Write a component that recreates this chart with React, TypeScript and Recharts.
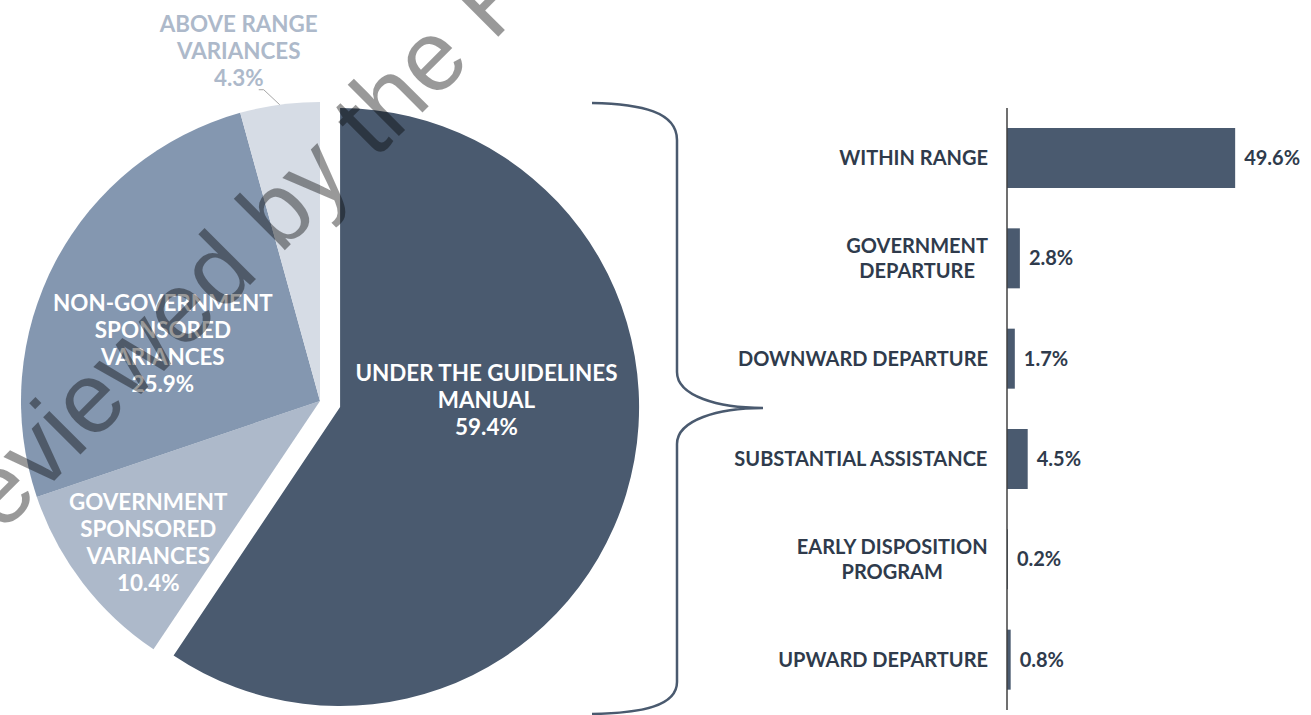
import React from "react";
import { PieChart, Pie, Cell, BarChart, Bar, XAxis, YAxis, LabelList } from "recharts";

const SLICE_LINES = [
  ["UNDER THE GUIDELINES", "MANUAL"],
  ["GOVERNMENT", "SPONSORED", "VARIANCES"],
  ["NON-GOVERNMENT", "SPONSORED", "VARIANCES"],
  ["ABOVE RANGE", "VARIANCES"],
];
const SLICE_VALUES = [59.4, 10.4, 25.9, 4.3];

const BAR_LINES = [
  ["WITHIN RANGE"],
  ["GOVERNMENT", "DEPARTURE"],
  ["DOWNWARD DEPARTURE"],
  ["SUBSTANTIAL ASSISTANCE"],
  ["EARLY DISPOSITION", "PROGRAM"],
  ["UPWARD DEPARTURE"],
];
const BAR_VALUES = [49.6, 2.8, 1.7, 4.5, 0.2, 0.8];

const SLICE_COLORS = ["#4A5A6F", "#ADB9CA", "#8497B0", "#D6DCE5"];
const LABEL_COLORS = ["#FFFFFF", "#FFFFFF", "#FFFFFF", "#ADB9CA"];
// where each label sits: fraction of radius, and turn (clockwise degrees) from the slice middle
const LABEL_SPOT = [
  { f: 0.49, turn: -19.6 },
  { f: 0.745, turn: -2.1 },
  { f: 0.56, turn: -7.7 },
  { f: 1.0, turn: 0 },
];

const FONT = "Lato, 'Noto Sans', sans-serif";
const DARK_TEXT = "#2F3B4C";
const PIE_FS = 22.4;
const BAR_FS = 20;
const RAD = Math.PI / 180;

const CX = 320;
const CY = 401;
const R = 299;
const EXPLODE = 21;

const pieData = SLICE_VALUES.map((value, i) => ({ name: SLICE_LINES[i].join(" "), value }));
const barData = BAR_VALUES.map((value, i) => ({ key: BAR_LINES[i].join("|"), value }));

const total = SLICE_VALUES.reduce((a, b) => a + b, 0);
const mainMid = ((SLICE_VALUES[0] / total) * 360) / 2;
const offX = EXPLODE * Math.sin(mainMid * RAD);
const offY = -EXPLODE * Math.cos(mainMid * RAD);

const polar = (cx: number, cy: number, r: number, angle: number) => ({
  x: cx + r * Math.cos(-angle * RAD),
  y: cy + r * Math.sin(-angle * RAD),
});

let ctx: CanvasRenderingContext2D | null = null;
const measure = (s: string, font: string) => {
  if (!ctx) ctx = document.createElement("canvas").getContext("2d");
  if (!ctx) return s.length * 11;
  ctx.font = font;
  return ctx.measureText(s).width;
};

const LabelBlock = ({ x, y, lines, color }: { x: number; y: number; lines: string[]; color: string }) => {
  const lh = 27;
  return (
    <g>
      {lines.map((l, i) => (
        <text
          key={i}
          x={x}
          y={y + (i - (lines.length - 1) / 2) * lh + 8}
          textAnchor="middle"
          fill={color}
          fontFamily={FONT}
          fontWeight={700}
          fontSize={PIE_FS}
        >
          {l}
        </text>
      ))}
    </g>
  );
};

const makePieLabel = (show: number[]) => (props: any) => {
  const { cx, cy, midAngle, outerRadius, index } = props;
  if (!show.includes(index)) return null;
  const spot = LABEL_SPOT[index];
  const all = [...SLICE_LINES[index], `${SLICE_VALUES[index].toFixed(1)}%`];
  if (index === 3) {
    // small slice: label sits outside with a leader line
    const p = polar(cx, cy, outerRadius, midAngle);
    const bend = { x: p.x - 16, y: p.y - 15 };
    const end = { x: bend.x - 5, y: bend.y };
    return (
      <g>
        <polyline
          points={`${p.x},${p.y} ${bend.x},${bend.y} ${end.x},${end.y}`}
          fill="none"
          stroke="#A6A6A6"
          strokeWidth={1}
        />
        <LabelBlock x={p.x - 41} y={p.y - 54} lines={all} color={LABEL_COLORS[index]} />
      </g>
    );
  }
  const p = polar(cx, cy, outerRadius * spot.f, midAngle - spot.turn);
  return <LabelBlock x={p.x} y={p.y} lines={all} color={LABEL_COLORS[index]} />;
};

const BarTick = (props: any) => {
  const { y, payload } = props;
  const lines: string[] = String(payload.value).split("|");
  const font = `bold ${BAR_FS}px Lato`;
  const w = Math.max(...lines.map((l) => measure(l, font)));
  const right = 288;
  const mid = right - w / 2;
  const lh = 25;
  return (
    <g>
      {lines.map((l, i) => (
        <text
          key={i}
          x={mid}
          y={y + (i - (lines.length - 1) / 2) * lh + 7}
          textAnchor="middle"
          fill={DARK_TEXT}
          fontFamily={FONT}
          fontWeight={700}
          fontSize={BAR_FS}
        >
          {l}
        </text>
      ))}
    </g>
  );
};

const App = () => {
  return (
    <div style={{ position: "relative", width: 1311, height: 715, background: "#fff", overflow: "hidden" }}>
      <style>{`body{margin:0}`}</style>
      <div style={{ position: "absolute", left: 0, top: 0 }}>
        <PieChart width={700} height={715} margin={{ top: 0, right: 0, bottom: 0, left: 0 }}>
          <Pie
            data={pieData}
            dataKey="value"
            nameKey="name"
            cx={CX}
            cy={CY}
            outerRadius={R}
            startAngle={90}
            endAngle={-270}
            stroke="none"
            labelLine={false}
            label={makePieLabel([1, 2, 3])}
            isAnimationActive={false}
          >
            {pieData.map((d, i) => (
              <Cell key={d.name} fill={i === 0 ? "transparent" : SLICE_COLORS[i]} />
            ))}
          </Pie>
          <Pie
            data={pieData}
            dataKey="value"
            nameKey="name"
            cx={CX + offX}
            cy={CY + offY}
            outerRadius={R}
            startAngle={90}
            endAngle={-270}
            stroke="none"
            labelLine={false}
            label={makePieLabel([0])}
            isAnimationActive={false}
          >
            {pieData.map((d, i) => (
              <Cell key={d.name} fill={i === 0 ? SLICE_COLORS[0] : "transparent"} />
            ))}
          </Pie>
        </PieChart>
      </div>
      <div style={{ position: "absolute", left: 700, top: 0 }}>
        <BarChart
          width={611}
          height={715}
          data={barData}
          layout="vertical"
          margin={{ top: 108, right: 74, bottom: 5, left: 0 }}
          barSize={60}
        >
          <XAxis type="number" domain={[0, 50]} hide />
          <YAxis
            type="category"
            dataKey="key"
            width={307}
            axisLine={{ stroke: "#404040", strokeWidth: 1.5 }}
            tickLine={false}
            tick={<BarTick />}
            interval={0}
          />
          <Bar dataKey="value" fill="#4A5A6F" isAnimationActive={false}>
            <LabelList
              dataKey="value"
              position="right"
              offset={9}
              formatter={(v: any) => `${Number(v).toFixed(1)}%`}
              fill={DARK_TEXT}
              fontFamily={FONT}
              fontWeight={700}
              fontSize={BAR_FS}
            />
          </Bar>
        </BarChart>
      </div>
      <svg width={1311} height={715} style={{ position: "absolute", left: 0, top: 0, pointerEvents: "none" }}>
        <path
          d="M 592 103 C 642 104, 677 112, 677 140 L 677 372 C 677 396, 718 408, 763 408 C 718 408, 677 420, 677 444 L 677 682 C 677 706, 642 713, 592 714"
          fill="none"
          stroke="#4A5A6F"
          strokeWidth={2.5}
        />
        <text
          x={-50}
          y={585}
          transform="rotate(-45 -50 585)"
          fontFamily="'Liberation Sans', Arial, sans-serif"
          fontSize={100}
          fill="rgba(0,0,0,0.4)"
        >
          Reviewed by the F
        </text>
      </svg>
    </div>
  );
};

export default App;
